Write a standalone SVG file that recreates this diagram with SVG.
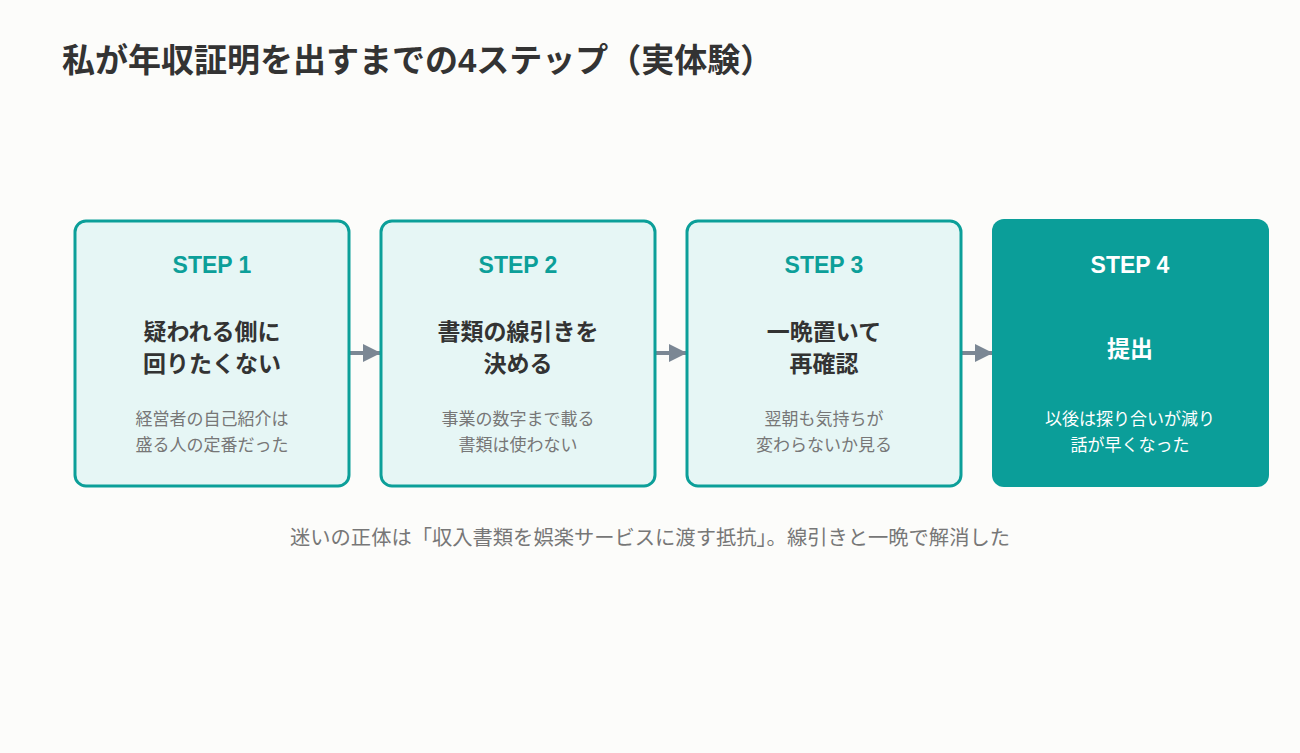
<svg xmlns="http://www.w3.org/2000/svg" width="1300" height="753" viewBox="0 0 1300 753">
<defs>
<marker id="ah" viewBox="0 0 10 10" refX="10" refY="5" markerWidth="4.5" markerHeight="4.5" orient="auto" markerUnits="strokeWidth">
<path d="M0,0 L10,5 L0,10 z" fill="#7B8794"/>
</marker>
<style>
text{font-family:"Liberation Sans","Noto Sans CJK JP",sans-serif;text-anchor:middle}
.title{font-size:33px;font-weight:700;fill:#333;text-anchor:start}
.box{fill:#E6F6F5;stroke:#0C9F99;stroke-width:3}
.boxf{fill:#0B9E99}
.step{font-size:23px;font-weight:700;fill:#0C9F99}
.main{font-size:23px;font-weight:700;fill:#333}
.sub{font-size:17px;fill:#777}
.w{fill:#fff}
.foot{font-size:20.3px;fill:#777}
.conn{stroke:#7B8794;stroke-width:4;fill:none}
</style>
</defs>
<rect width="1300" height="753" fill="#FCFCFA"/>
<text class="title" x="62" y="72">私が年収証明を出すまでの4ステップ（実体験）</text>
<g id="connectors">
<line class="conn" x1="350" y1="353" x2="381" y2="353" marker-end="url(#ah)"/>
<line class="conn" x1="656" y1="353" x2="687" y2="353" marker-end="url(#ah)"/>
<line class="conn" x1="962" y1="353" x2="993" y2="353" marker-end="url(#ah)"/>
</g>
<g id="step1">
<rect class="box" x="75" y="221" width="274" height="265" rx="11"/>
<text class="step" x="212" y="273">STEP 1</text>
<text class="main" x="212" y="340">疑われる側に</text>
<text class="main" x="212" y="372">回りたくない</text>
<text class="sub" x="212" y="425">経営者の自己紹介は</text>
<text class="sub" x="212" y="451">盛る人の定番だった</text>
</g>
<g id="step2">
<rect class="box" x="381" y="221" width="274" height="265" rx="11"/>
<text class="step" x="518" y="273">STEP 2</text>
<text class="main" x="518" y="340">書類の線引きを</text>
<text class="main" x="518" y="372">決める</text>
<text class="sub" x="518" y="425">事業の数字まで載る</text>
<text class="sub" x="518" y="451">書類は使わない</text>
</g>
<g id="step3">
<rect class="box" x="687" y="221" width="274" height="265" rx="11"/>
<text class="step" x="824" y="273">STEP 3</text>
<text class="main" x="824" y="340">一晩置いて</text>
<text class="main" x="824" y="372">再確認</text>
<text class="sub" x="824" y="425">翌朝も気持ちが</text>
<text class="sub" x="824" y="451">変わらないか見る</text>
</g>
<g id="step4">
<rect class="boxf" x="992" y="219" width="277" height="268" rx="12"/>
<text class="step w" x="1130" y="273">STEP 4</text>
<text class="main w" x="1130" y="357">提出</text>
<text class="sub w" x="1130" y="425">以後は探り合いが減り</text>
<text class="sub w" x="1130" y="451">話が早くなった</text>
</g>
<text class="foot" x="650" y="545">迷いの正体は「収入書類を娯楽サービスに渡す抵抗」。線引きと一晩で解消した</text>
</svg>
